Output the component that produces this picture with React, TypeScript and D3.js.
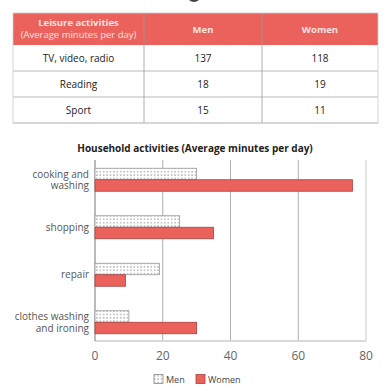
import React from "react";
import * as d3 from "d3";

const leisureHeaders = ["Men", "Women"];
const leisureActivities = ["TV, video, radio", "Reading", "Sport"];
const leisureMen = [137, 18, 15];
const leisureWomen = [118, 19, 11];

const householdCategories = ["cooking and washing", "shopping", "repair", "clothes washing and ironing"];
const householdLabelLines = [["cooking and", "washing"], ["shopping"], ["repair"], ["clothes washing", "and ironing"]];
const menValues = [30, 25, 19, 10];
const womenValues = [76, 35, 9, 30];
const xTicks = [0, 20, 40, 60, 80];
const seriesNames = ["Men", "Women"];

const FONT = "'Open Sans', 'DejaVu Sans', sans-serif";
const RED = "#EB615B";

export default function App() {
  const W = 385, H = 391;
  const tx0 = 13, tx1 = 378, colX = [13, 144, 262, 378];
  const headTop = 13, headBot = 45, rowH = 26;

  const x = d3.scaleLinear().domain([0, 80]).range([95, 366]);
  const y = d3.scaleBand().domain(householdCategories).range([156, 346]).padding(0);
  const barH = 11.5;
  const plotTop = 160, plotBot = 341;

  return (
    <svg width={W} height={H} style={{ position: "absolute", left: 0, top: 0, background: "#fff" }} fontFamily={FONT}>
      <defs>
        <pattern id="dots" width="3.4" height="3.4" patternUnits="userSpaceOnUse">
          <rect width="3.4" height="3.4" fill="#fff" />
          <circle cx="1.7" cy="1.7" r="0.55" fill="#555" />
        </pattern>
      </defs>
      <rect width={W} height={H} fill="#fff" />
      {/* cropped fragment of a title above the frame */}
      <path d="M189,0 Q194,4 199,0 Z" fill="#444" />

      {/* Table */}
      <rect x={tx0} y={headTop} width={tx1 - tx0} height={headBot - headTop} fill={RED} />
      <text x={(colX[0] + colX[1]) / 2} y={26} textAnchor="middle" fontSize={9.5} fontWeight="bold" fill="#FCE3E1">Leisure activities</text>
      <text x={(colX[0] + colX[1]) / 2} y={38} textAnchor="middle" fontSize={9.5} fill="#FCE3E1">(Average minutes per day)</text>
      {leisureHeaders.map((h, i) => (
        <text key={h} x={(colX[i + 1] + colX[i + 2]) / 2} y={32.5} textAnchor="middle" fontSize={9.5} fontWeight="bold" fill="#FCE3E1">{h}</text>
      ))}
      {leisureActivities.map((a, i) => {
        const cy = headBot + rowH * i + rowH / 2 + 3.5;
        return (
          <g key={a}>
            <text x={(colX[0] + colX[1]) / 2} y={cy} textAnchor="middle" fontSize={10} fill="#222">{a}</text>
            <text x={(colX[1] + colX[2]) / 2} y={cy} textAnchor="middle" fontSize={10} fill="#222">{leisureMen[i]}</text>
            <text x={(colX[2] + colX[3]) / 2} y={cy} textAnchor="middle" fontSize={10} fill="#222">{leisureWomen[i]}</text>
          </g>
        );
      })}
      {[1, 2, 3].map((i) => (
        <line key={i} x1={tx0} x2={tx1} y1={headBot + rowH * i} y2={headBot + rowH * i} stroke="#aaa" strokeWidth={0.8} />
      ))}
      {[1, 2].map((i) => (
        <line key={i} x1={colX[i]} x2={colX[i]} y1={headTop} y2={headBot + rowH * 3} stroke="#999" strokeWidth={0.8} />
      ))}
      <rect x={tx0} y={headTop} width={tx1 - tx0} height={headBot + rowH * 3 - headTop} fill="none" stroke="#ccc" strokeWidth={0.8} />

      {/* Chart title */}
      <text x={195} y={152} textAnchor="middle" fontSize={10} fontWeight="bold" fill="#222">Household activities (Average minutes per day)</text>

      {/* grid */}
      {xTicks.slice(1, 4).map((t) => (
        <line key={t} x1={x(t)} x2={x(t)} y1={plotTop} y2={plotBot} stroke="#999" strokeWidth={0.8} />
      ))}
      <line x1={x(80)} x2={x(80)} y1={plotTop} y2={plotBot} stroke="#ddd" strokeWidth={1.5} />
      <line x1={x(0)} x2={x(80)} y1={plotBot} y2={plotBot} stroke="#ccc" strokeWidth={1.5} />
      <line x1={x(0)} x2={x(0)} y1={plotTop} y2={plotBot} stroke="#777" strokeWidth={1} />

      {/* bars */}
      {householdCategories.map((c, i) => {
        const cy = (y(c) as number) + y.bandwidth() / 2;
        const lines = householdLabelLines[i];
        return (
          <g key={c}>
            <rect x={x(0)} y={cy - barH} width={x(menValues[i]) - x(0)} height={barH} fill="url(#dots)" stroke="#999" strokeWidth={0.8} />
            <rect x={x(0)} y={cy} width={x(womenValues[i]) - x(0)} height={barH} fill={RED} stroke="#A8433F" strokeWidth={0.8} />
            {lines.map((l, j) => (
              <text key={j} x={89} y={cy + 3.5 + (j - (lines.length - 1) / 2) * 11.5} textAnchor="end" fontSize={10} fill="#555">{l}</text>
            ))}
          </g>
        );
      })}

      {/* x tick labels */}
      {xTicks.map((t) => (
        <text key={t} x={x(t)} y={359.5} textAnchor="middle" fontSize={12} fill="#666">{t}</text>
      ))}

      {/* legend */}
      <rect x={154} y={374.5} width={9} height={9} fill="url(#dots)" stroke="#888" strokeWidth={0.8} />
      <text x={166} y={382.5} fontSize={9} fill="#444">{seriesNames[0]}</text>
      <rect x={196} y={374.5} width={9} height={9} fill={RED} stroke="#A8433F" strokeWidth={0.8} />
      <text x={208} y={382.5} fontSize={9} fill="#444">{seriesNames[1]}</text>
    </svg>
  );
}
